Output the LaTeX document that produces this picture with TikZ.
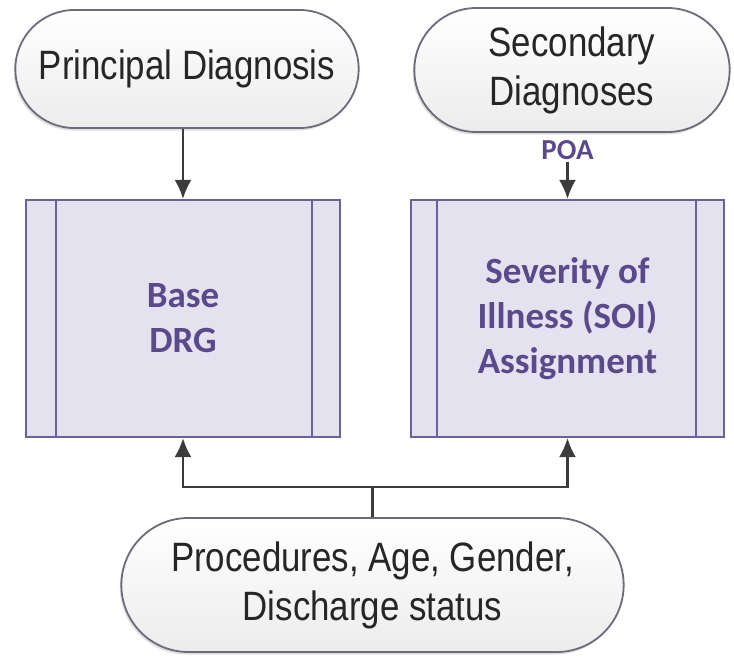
\documentclass[tikz,border=0pt]{standalone}
\usepackage{fontspec}
\usepackage{xcolor}
\usepackage{tikz}
\usetikzlibrary{positioning, shapes.misc, shadows, arrows.meta}
\newfontfamily\pillfont[FakeStretch=0.85]{Liberation Sans}
\newfontfamily\boxfont{Carlito}
\definecolor{pillline}{HTML}{6E6A7C}
\definecolor{boxline}{HTML}{6A62A0}
\definecolor{boxfill}{HTML}{E5E2EF}
\definecolor{boxtext}{HTML}{5A4A8C}
\definecolor{arrowgray}{HTML}{3C3C3C}
\tikzstyle{pill} = [rounded rectangle, draw=pillline, line width=1.8pt, top color=white, bottom color=gray!15, align=center, font=\pillfont\fontsize{41}{49}\selectfont, text=black!85, drop shadow={shadow xshift=-1.5pt, shadow yshift=-2.5pt, opacity=0.25}]
\tikzstyle{proc} = [rectangle, draw=boxline, line width=2.2pt, fill=boxfill, minimum height=237pt, align=center, font=\boxfont\bfseries\fontsize{37}{45}\selectfont, text=boxtext]
\tikzstyle{arr} = [draw=arrowgray, line width=2.2pt, -{Latex[length=19pt,width=17pt]}]

\begin{document}
\begin{tikzpicture}[x=1pt, y=-1pt]
		\useasboundingbox (0,0) rectangle (734,657);
		% inputs
		\node[pill, minimum width=350pt, minimum height=118pt] (pd) at (187,69) {Principal Diagnosis};
		\node[pill, minimum width=322pt, minimum height=124pt] (sd) at (572,70) {Secondary\\Diagnoses};
		\node[pill, minimum width=509pt, minimum height=134pt] (pr) at (372.5,585) {Procedures, Age, Gender,\\Discharge status};
		% processes
		\node[proc, minimum width=314pt] (base) at (183,318.5) {Base\\DRG};
		\node[proc, minimum width=313pt] (soi) at (567.5,318.5) {Severity of\\Illness (SOI)\\Assignment};
		\foreach \b/\l/\r in {base/31/29, soi/27/29} {
			\draw[boxline, line width=2.2pt] ([xshift=\l pt]\b.north west) -- ([xshift=\l pt]\b.south west);
			\draw[boxline, line width=2.2pt] ([xshift=-\r pt]\b.north east) -- ([xshift=-\r pt]\b.south east);
		}
		\node[inner sep=2pt, font=\boxfont\bfseries\fontsize{29}{34}\selectfont, text=boxtext] (poa) at (567.5,150) {POA};
		% connectors
		\draw[arr] (pd.south -| base.north) -- (base.north);
		\draw[arr] (poa.south) -- (soi.north);
		\coordinate (split) at (pr.north |- 0,487);
		\draw[draw=arrowgray, line width=2.2pt] (pr.north) -- (split);
		\draw[arr] (split) -| (base.south);
		\draw[arr] (split) -| (soi.south);
	\end{tikzpicture}
\end{document}
